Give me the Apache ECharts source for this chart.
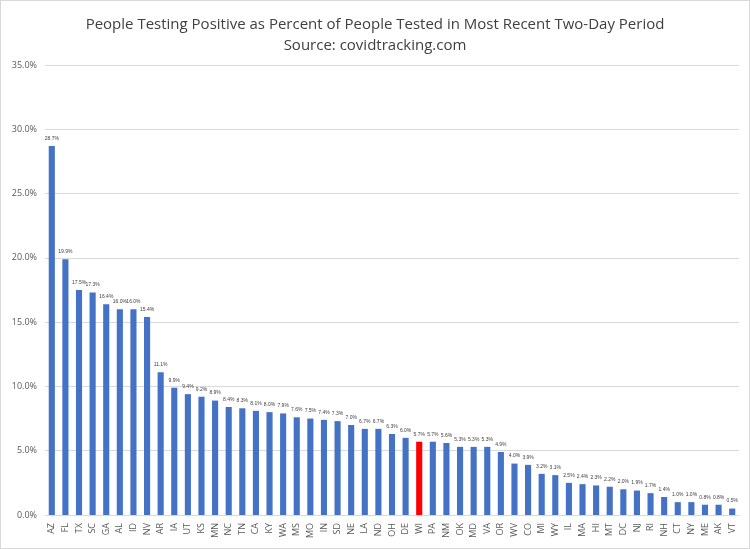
<!DOCTYPE html>
<html>
<head>
<meta charset="UTF-8">
<script src="https://cdn.jsdelivr.net/npm/echarts@6/dist/echarts.min.js"></script>
<style>
html,body{margin:0;padding:0;background:#fff;}
#main{width:748px;height:547px;border:1px solid #d9d9d9;}
</style>
</head>
<body>
<div id="main"></div>
<script>
var states = ['AZ','FL','TX','SC','GA','AL','ID','NV','AR','IA','UT','KS','MN','NC','TN','CA','KY','WA','MS','MO','IN','SD','NE','LA','ND','OH','DE','WI','PA','NM','OK','MD','VA','OR','WV','CO','MI','WY','IL','MA','HI','MT','DC','NJ','RI','NH','CT','NY','ME','AK','VT'];
var positivity = [28.7,19.9,17.5,17.3,16.4,16.0,16.0,15.4,11.1,9.9,9.4,9.2,8.9,8.4,8.3,8.1,8.0,7.9,7.6,7.5,7.4,7.3,7.0,6.7,6.7,6.3,6.0,5.7,5.7,5.6,5.3,5.3,5.3,4.9,4.0,3.9,3.2,3.1,2.5,2.4,2.3,2.2,2.0,1.9,1.7,1.4,1.0,1.0,0.8,0.8,0.5];
var highlight = 'WI';

var chart = echarts.init(document.getElementById('main'));
chart.setOption({
    animation: false,
    title: {
        text: 'People Testing Positive as Percent of People Tested in Most Recent Two-Day Period\nSource: covidtracking.com',
        left: 'center',
        top: 8,
        textStyle: {fontFamily: 'Open Sans', fontSize: 15, fontWeight: 'normal', color: '#404040', lineHeight: 21}
    },
    grid: {left: 44, right: 10, top: 64, bottom: 33},
    xAxis: {
        type: 'category',
        data: states,
        axisTick: {show: false},
        axisLine: {lineStyle: {color: '#d9d9d9'}},
        axisLabel: {rotate: 90, interval: 0, fontSize: 9, color: '#595959', fontFamily: 'Open Sans'}
    },
    yAxis: {
        type: 'value',
        min: 0, max: 35, interval: 5,
        axisLabel: {formatter: function (v) { return v.toFixed(1) + '%'; }, fontSize: 9, color: '#595959', fontFamily: 'Open Sans'},
        splitLine: {lineStyle: {color: '#d9d9d9'}}
    },
    series: [{
        type: 'bar',
        barWidth: '45%',
        data: states.map(function (s, i) {
            return {value: positivity[i], itemStyle: {color: s === highlight ? '#ff0000' : '#4472c4'}};
        }),
        label: {
            show: true, position: 'top', fontSize: 5, color: '#404040',
            formatter: function (p) { return p.value.toFixed(1) + '%'; }
        }
    }]
});
</script>
</body>
</html>
